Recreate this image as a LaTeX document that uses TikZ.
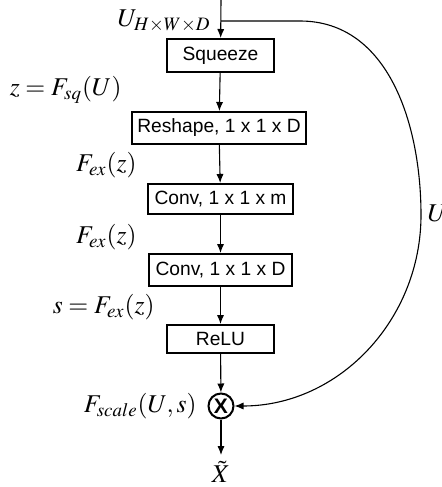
\documentclass[tikz,border=0pt]{standalone}
\usepackage[no-math]{fontspec}
\usepackage{mathptmx}
\setmainfont{Liberation Serif}
\newfontfamily\boxfont{Liberation Sans}
\usepackage{tikz}
\usetikzlibrary{arrows.meta}

\begin{document}
\begin{tikzpicture}[x=0.5pt, y=-0.5pt, line width=0.55pt, >={Latex[length=4.5pt, width=3.6pt]},
    blk/.style={draw, line width=1pt, font=\boxfont\fontsize{9.6}{12}\selectfont, inner sep=0pt},
    lbl/.style={anchor=east, inner sep=0pt, font=\fontsize{12.8}{15}\selectfont}]
  \useasboundingbox (0,0) rectangle (442,487);
  % Blocks
  \node[blk, minimum width=53.5pt, minimum height=16.5pt] (squeeze) at (220.5,55.5) {Squeeze};
  \node[blk, minimum width=87pt, minimum height=16pt] (reshape) at (219,128) {Reshape, 1 x 1 x D};
  \node[blk, minimum width=72.5pt, minimum height=15pt] (convm) at (220.5,199) {Conv, 1 x 1 x m};
  \node[blk, minimum width=71.5pt, minimum height=16pt] (convd) at (220.5,270) {Conv, 1 x 1 x D};
  \node[blk, minimum width=53.5pt, minimum height=14pt] (relu) at (220.5,339) {ReLU};
  \node[circle, draw, line width=1pt, minimum size=12.5pt, inner sep=0pt,
    font=\boxfont\fontsize{10.5}{12}\selectfont\bfseries] (scale) at (221,406) {X};
  \node[inner sep=0pt, font=\fontsize{12.8}{15}\selectfont] (xt) at (221,472) {$\tilde{X}$};
  \coordinate (top) at (221,0);
  \coordinate (branch) at (221,21);
  \coordinate (bend) at (421,215);
  \coordinate (xend) at (221,455);
  % Main path
  \draw[->] (top) -- (squeeze);
  \draw[->] (squeeze) -- (reshape);
  \draw[->] (reshape) -- (convm);
  \draw[->] (convm) -- (convd);
  \draw[->] (convd) -- (relu);
  \draw[->] (relu) -- (scale);
  \draw[->] (scale) -- (xend);
  % Skip connection
  \draw[->] (branch) -- (300,21) to[out=0, in=90] (bend) to[out=-90, in=0] (scale.east);
  % Labels
  \node[lbl] at (211,21) {$U_{H\times W\times D}$};
  \node[lbl] at (122,90) {$z = F_{sq}(U)$};
  \node[lbl] at (137,165) {$F_{ex}(z)$};
  \node[lbl] at (137,237) {$F_{ex}(z)$};
  \node[lbl] at (155,307) {$s = F_{ex}(z)$};
  \node[lbl] at (197,406) {$F_{scale}(U,s)$};
  \node[lbl, anchor=west] at (427,213) {$U$};
\end{tikzpicture}
\end{document}
